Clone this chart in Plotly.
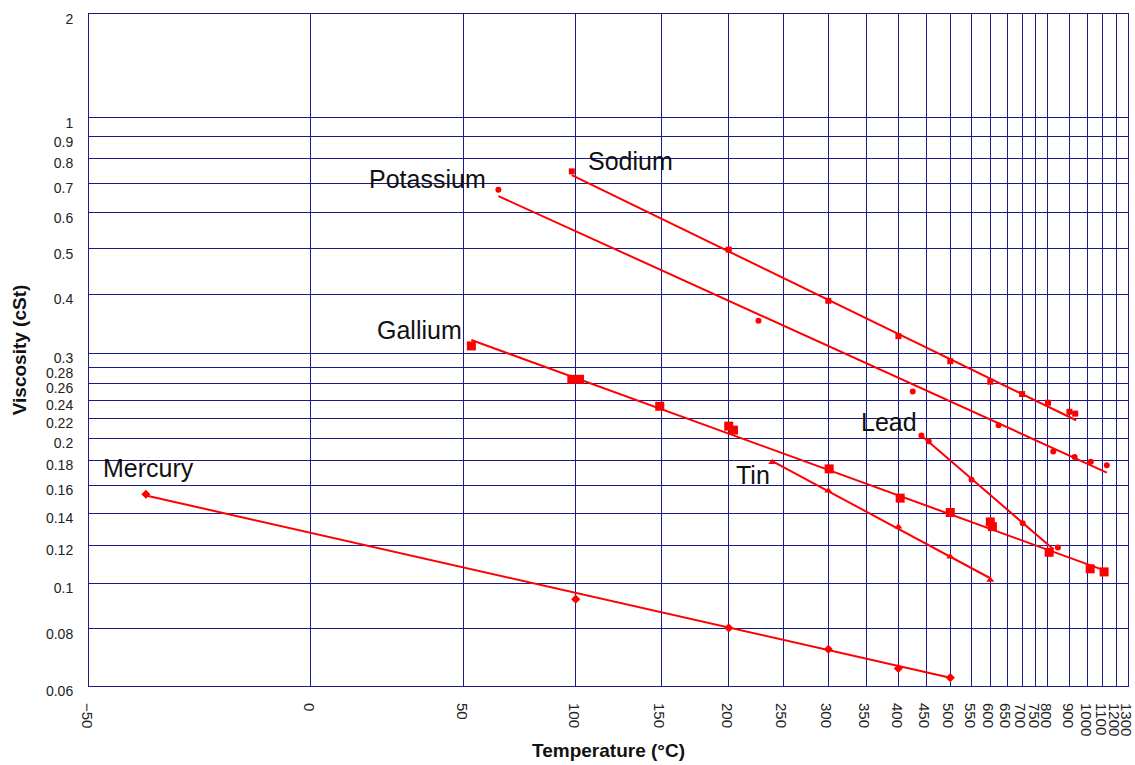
import numpy as np
import plotly.graph_objects as go

# ---------------- data ----------------
sodium_T = [98, 200, 300, 400, 500, 600, 700, 800, 900, 930]
sodium_nu = [0.745, 0.498, 0.387, 0.326, 0.289, 0.262, 0.247, 0.237, 0.227, 0.225]
sodium_fit_T = [98, 935]
sodium_fit_nu = [0.730, 0.218]

potassium_T = [64, 226, 425, 624, 823, 927, 1020, 1127]
potassium_nu = [0.676, 0.351, 0.250, 0.213, 0.188, 0.183, 0.179, 0.176]
potassium_fit_T = [64, 1127]
potassium_fit_nu = [0.654, 0.170]

gallium_T = [53, 98, 102, 149, 200, 204, 301, 403, 500, 600, 606, 805, 1016, 1108]
gallium_nu = [0.311, 0.265, 0.265, 0.233, 0.212, 0.208, 0.173, 0.1505, 0.1405,
              0.1343, 0.1313, 0.1161, 0.1072, 0.1056]
gallium_fit_T = [53, 1105]
gallium_fit_nu = [0.320, 0.1065]

lead_T = [441, 455, 550, 702, 844]
lead_nu = [0.2027, 0.1972, 0.1642, 0.1334, 0.1188]
lead_fit_T = [438, 825]
lead_fit_nu = [0.204, 0.1176]

tin_T = [239, 300, 400, 500, 600]
tin_nu = [0.1785, 0.1559, 0.1312, 0.1136, 0.1015]
tin_fit_T = [239, 600]
tin_fit_nu = [0.1795, 0.1024]

mercury_T = [-39, 100, 200, 300, 400, 500]
mercury_nu = [0.1533, 0.0925, 0.0803, 0.0722, 0.0656, 0.0626]
mercury_fit_T = [-39, 500]
mercury_fit_nu = [0.1524, 0.0626]

x_tick_T = [-50, 0, 50, 100, 150, 200, 250, 300, 350, 400, 450, 500, 550, 600,
            650, 700, 750, 800, 900, 1000, 1100, 1200, 1300]
x_tick_text = ["\u221250"] + [str(t) for t in x_tick_T[1:]]
y_tick_nu = [2, 1, 0.9, 0.8, 0.7, 0.6, 0.5, 0.4, 0.3, 0.28, 0.26, 0.24, 0.22,
             0.2, 0.18, 0.16, 0.14, 0.12, 0.1, 0.08, 0.06]
y_tick_text = ["2", "1", "0.9", "0.8", "0.7", "0.6", "0.5", "0.4", "0.3", "0.28",
               "0.26", "0.24", "0.22", "0.2", "0.18", "0.16", "0.14", "0.12",
               "0.1", "0.08", "0.06"]


# ---------------- chart scales ----------------
def xs(T):
    # reciprocal absolute temperature scale
    return [-1000.0 / (t + 273.15) for t in T]


def ys(nu):
    # viscosity chart scale
    return [float(np.log10(v + 0.01) - 0.10466 * v) for v in nu]


RED = "#ff0000"
GRID = "#1a1a88"
FONT = "Liberation Sans, Arial, Helvetica, sans-serif"

series = [
    ("Sodium", sodium_T, sodium_nu, sodium_fit_T, sodium_fit_nu, "square", 6),
    ("Potassium", potassium_T, potassium_nu, potassium_fit_T, potassium_fit_nu, "circle", 6),
    ("Gallium", gallium_T, gallium_nu, gallium_fit_T, gallium_fit_nu, "square", 9),
    ("Lead", lead_T, lead_nu, lead_fit_T, lead_fit_nu, "circle", 6),
    ("Tin", tin_T, tin_nu, tin_fit_T, tin_fit_nu, "triangle-up", 7),
    ("Mercury", mercury_T, mercury_nu, mercury_fit_T, mercury_fit_nu, "diamond", 7),
]

fig = go.Figure()
for name, T, nu, fT, fnu, sym, size in series:
    fig.add_trace(go.Scatter(x=xs(fT), y=ys(fnu), mode="lines", name=name + " fit",
                             line=dict(color=RED, width=2), hoverinfo="skip",
                             showlegend=False))
    fig.add_trace(go.Scatter(x=xs(T), y=ys(nu), mode="markers", name=name,
                             marker=dict(color=RED, symbol=sym, size=size, line=dict(width=0)),
                             customdata=list(zip(T, nu)),
                             hovertemplate=name + "<br>%{customdata[0]} °C<br>%{customdata[1]} cSt<extra></extra>",
                             showlegend=False))

labels = [
    ("Sodium", 0.4781, 0.7817, "left"),
    ("Potassium", 0.3845, 0.7545, "right"),
    ("Gallium", 0.2752, 0.5298, "left"),
    ("Lead", 0.7408, 0.3933, "left"),
    ("Tin", 0.6210, 0.3140, "left"),
    ("Mercury", 0.0112, 0.3244, "left"),
]
for text, px, py, anchor in labels:
    fig.add_annotation(text=text, x=px, y=py, xref="paper", yref="paper",
                       xanchor=anchor, yanchor="middle", showarrow=False,
                       font=dict(family=FONT, size=25, color="#111111"))

xr = xs([-50, 1300])
yr = ys([0.06, 2])

fig.update_layout(
    width=1135, height=765,
    margin=dict(l=89, r=7, t=14, b=79),
    paper_bgcolor="white", plot_bgcolor="white",
    font=dict(family=FONT, color="#222222"),
    xaxis=dict(range=xr, tickvals=xs(x_tick_T), ticktext=x_tick_text,
               tickangle=90, tickfont=dict(size=15, color="#222222"),
               showgrid=True, gridcolor=GRID, gridwidth=1, zeroline=False,
               showline=True, mirror=True, linecolor=GRID, linewidth=1,
               ticks="", ticklabelstandoff=13, ticklabelshift=-2,
               ticklabeloverflow="allow", automargin=False,
               title=dict(text="<b>Temperature (°C)</b>", standoff=8,
                          font=dict(size=19, color="#111111"))),
    yaxis=dict(range=yr, tickvals=ys(y_tick_nu), ticktext=y_tick_text,
               tickfont=dict(size=14, color="#222222"),
               showgrid=True, gridcolor=GRID, gridwidth=1, zeroline=False,
               showline=True, mirror=True, linecolor=GRID, linewidth=1,
               ticks="", ticklabelstandoff=12, ticklabelshift=5,
               ticklabeloverflow="allow", automargin=False,
               title=dict(text="<b>Viscosity (cSt)</b>", standoff=14,
                          font=dict(size=19, color="#111111"))),
)

fig.write_html("out.html", config={"displayModeBar": False},
               post_script="document.body.style.margin='0';")
